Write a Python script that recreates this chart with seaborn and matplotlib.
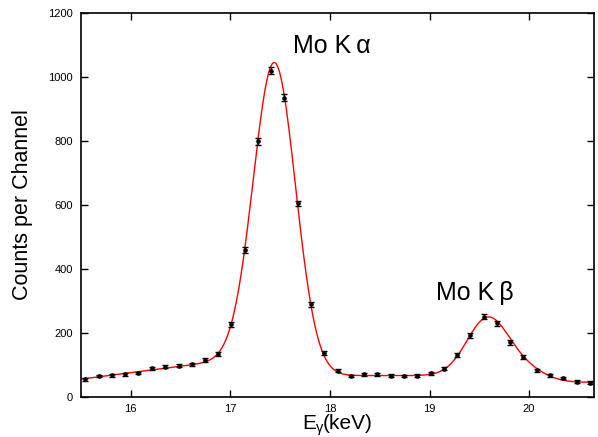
import math
import numpy as np
import pandas as pd
import matplotlib
matplotlib.use("Agg")
import matplotlib.pyplot as plt
from matplotlib.transforms import IdentityTransform
import seaborn as sns

# measured spectrum (energy in keV, counts per channel, error)
energy = [15.54, 15.677, 15.81, 15.943, 16.077, 16.21, 16.347, 16.48, 16.613, 16.747,
          16.877, 17.01, 17.143, 17.277, 17.41, 17.543, 17.677, 17.81, 17.943, 18.077,
          18.21, 18.343, 18.477, 18.61, 18.743, 18.877, 19.01, 19.143, 19.277, 19.41,
          19.543, 19.677, 19.81, 19.943, 20.077, 20.21, 20.343, 20.477, 20.61]
counts = [55, 65, 68, 71, 75, 90, 95, 98, 102, 116,
          135, 228, 459, 800, 1020, 936, 605, 290, 138, 82,
          66, 71, 71, 67, 66, 67, 74, 89, 132, 193,
          251, 231, 171, 126, 84, 68, 60, 48, 45]
errors = [4, 4, 4, 4, 4, 5, 5, 5, 5, 5,
          6, 8, 9, 11, 11, 11, 9, 8, 6, 5,
          4, 4, 4, 4, 4, 4, 4, 5, 6, 7,
          8, 8, 7, 6, 5, 4, 4, 4, 4]

# fit parameters (gaussian peaks on a stepped background)
ka_pos, ka_sig, ka_amp = 17.445, 0.212, 945
kb1_pos, kb1_sig, kb1_amp = 19.59, 0.21, 188
kb2_pos, kb2_sig, kb2_amp = 19.97, 0.2, 35
bg_left_at, bg_left_slope = 100, 40   # background left of K-alpha, value at 16.6 keV
bg_mid, bg_right = 67, 46


def step(x, mu, sig):
    return np.array([0.5 * math.erfc((v - mu) / (sig * math.sqrt(2))) for v in x])


def gauss(x, mu, sig, amp):
    return amp * np.exp(-(x - mu) ** 2 / (2 * sig ** 2))


def fit_curve(x):
    sa = step(x, ka_pos, ka_sig)
    sb = step(x, kb1_pos, kb1_sig)
    left = bg_left_at + bg_left_slope * (x - 16.6)
    bg = left * sa + (1 - sa) * (bg_mid * sb + bg_right * (1 - sb))
    return (bg + gauss(x, ka_pos, ka_sig, ka_amp)
            + gauss(x, kb1_pos, kb1_sig, kb1_amp)
            + gauss(x, kb2_pos, kb2_sig, kb2_amp))


sns.set_style("ticks")
plt.rcParams['font.family'] = ['Liberation Sans', 'DejaVu Sans']
plt.rcParams['text.color'] = 'black'
plt.rcParams['axes.labelcolor'] = 'black'

fig = plt.figure(figsize=(5.98, 4.37), dpi=100)
ax = fig.add_axes([0.1355, 0.0915, 0.8575, 0.8785])

xs = np.linspace(15.5, 20.65, 600)
fit = pd.DataFrame({"E": xs, "N": fit_curve(xs)})
sns.lineplot(data=fit, x="E", y="N", color="red", linewidth=1.0, ax=ax)

ax.errorbar(energy, counts, yerr=errors, fmt="o", color="black", markersize=2.3,
            elinewidth=1.0, capsize=2.5, capthick=1.0, zorder=3)

ax.set_xlim(15.5, 20.65)
ax.set_ylim(0, 1200)
ax.set_xticks([16, 17, 18, 19, 20])
ax.set_yticks(range(0, 1201, 200))
ax.tick_params(direction="in", top=True, right=True, length=5, width=1,
               labelsize=8, colors="black", pad=6)
ax.tick_params(axis="x", pad=5)
for s in ax.spines.values():
    s.set_visible(True)
    s.set_linewidth(1.2)
    s.set_color("black")

ax.set_xlabel("")
ax.set_ylabel("Counts per Channel", fontsize=15.5, labelpad=11)

ax.text(17.63, 1075, "Mo K\u2009α", fontsize=18)
ax.text(19.07, 303, "Mo K\u2009β", fontsize=18)

# x label "E_γ(keV)" built from pieces, baseline in pixels from the bottom
base = 8
parts = [("E", 15, 0), ("γ", 10.5, -3), ("(keV)", 15, 0)]
texts = [fig.text(0, 0, s, fontsize=fs, va="baseline", ha="left",
                  transform=IdentityTransform()) for s, fs, dy in parts]
fig.canvas.draw()
r = fig.canvas.get_renderer()
widths = [t.get_window_extent(r).width for t in texts]
x0 = ax.get_window_extent(r).x0 + ax.get_window_extent(r).width / 2 - sum(widths) / 2
for t, w, (s, fs, dy) in zip(texts, widths, parts):
    t.set_position((x0, base + dy))
    x0 += w

plt.savefig("out.png", dpi=100)
